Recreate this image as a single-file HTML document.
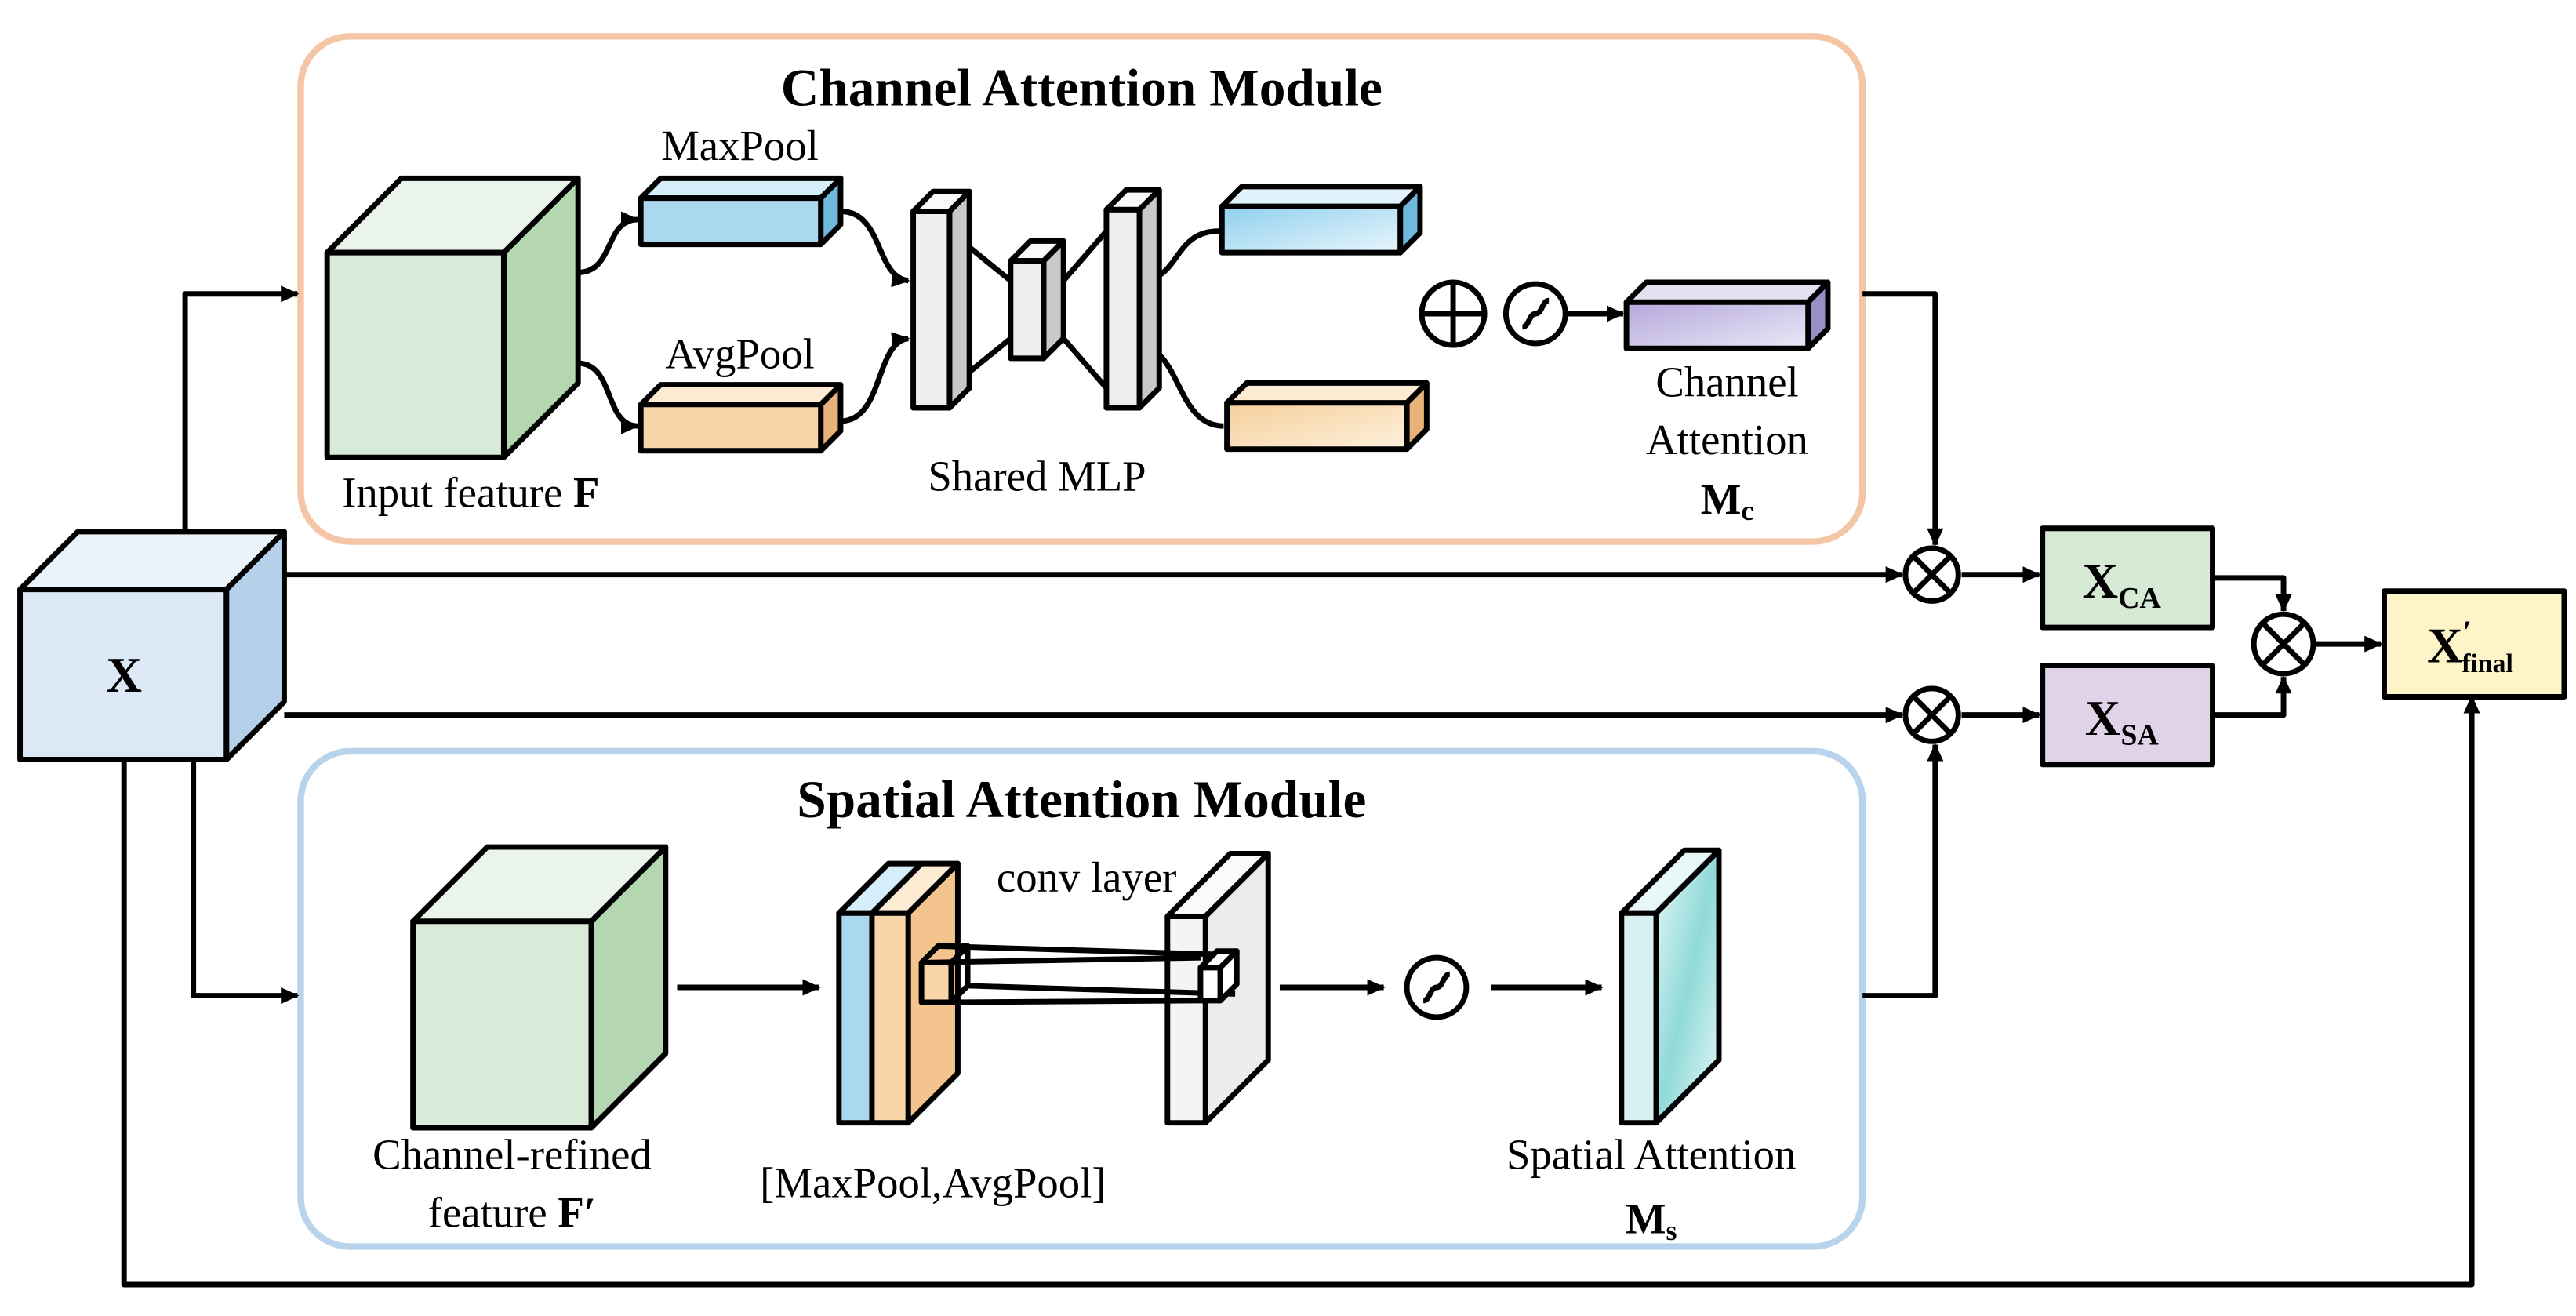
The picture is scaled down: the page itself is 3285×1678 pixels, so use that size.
<!DOCTYPE html>
<html><head><meta charset="utf-8"><style>html,body{margin:0;padding:0;background:#fff}svg{display:block}</style></head>
<body>
<svg width="3285" height="1678" viewBox="0 0 1560 797" xmlns="http://www.w3.org/2000/svg" font-family="Liberation Serif, serif">
<defs>
<marker id="a" markerWidth="11" markerHeight="10" refX="10" refY="5" orient="auto" markerUnits="userSpaceOnUse"><path d="M0,0 L11,5 L0,10 Z" fill="#000"/></marker>
<linearGradient id="gb" x1="0" y1="0" x2="1" y2="1"><stop offset="0" stop-color="#8fd0ee"/><stop offset="1" stop-color="#e8f6fc"/></linearGradient>
<linearGradient id="go" x1="0" y1="0" x2="1" y2="1"><stop offset="0" stop-color="#f6cf9c"/><stop offset="1" stop-color="#fdf0dc"/></linearGradient>
<linearGradient id="gp" x1="0" y1="0" x2="1" y2="1"><stop offset="0" stop-color="#b4a8dc"/><stop offset="1" stop-color="#ece8f6"/></linearGradient>
<linearGradient id="gt" x1="0" y1="0" x2="1" y2="1"><stop offset="0" stop-color="#e8f8f8"/><stop offset="0.5" stop-color="#8fdad8"/><stop offset="1" stop-color="#e8f8f8"/></linearGradient>
</defs>
<g stroke="#000" stroke-width="3.3" fill="none" stroke-linejoin="round">
<rect x="182" y="22" width="946" height="306" rx="30" stroke="#f5c6a5" stroke-width="4"/>
<rect x="182" y="455" width="946" height="300" rx="30" stroke="#b8d4ec" stroke-width="4"/>
<path d="M112,322 V178 H180" marker-end="url(#a)"/>
<path d="M117,460 V603 H180" marker-end="url(#a)"/>
<path d="M75,460 V778 H1497 V422" marker-end="url(#a)"/>
<path d="M172,348 H1152" marker-end="url(#a)"/>
<path d="M172,433 H1152" marker-end="url(#a)"/>
<path d="M1128,178 H1172 V330" marker-end="url(#a)"/>
<path d="M1128,603 H1172 V451" marker-end="url(#a)"/>
<path d="M1188,348 H1235" marker-end="url(#a)"/>
<path d="M1188,433 H1235" marker-end="url(#a)"/>
<path d="M1340,350 H1383 V370" marker-end="url(#a)"/>
<path d="M1340,433 H1383 V410" marker-end="url(#a)"/>
<path d="M1401,390 H1442" marker-end="url(#a)"/>
<circle cx="1170" cy="348" r="16" fill="#fff"/><path d="M1159,337 L1181,359 M1181,337 L1159,359"/>
<circle cx="1170" cy="433" r="16" fill="#fff"/><path d="M1159,422 L1181,444 M1181,422 L1159,444"/>
<circle cx="1383" cy="390" r="18" fill="#fff"/><path d="M1370,377 L1396,403 M1396,377 L1370,403"/>
<rect x="1237" y="320" width="103" height="60" fill="#d6ead6"/>
<rect x="1237" y="403" width="103" height="60" fill="#e0d3e8"/>
<rect x="1444" y="358" width="109" height="64" fill="#fdf4c8"/>
<polygon points="12,357 47,322 172,322 137,357" fill="#eaf2fa"/>
<polygon points="137,357 172,322 172,425 137,460" fill="#b5d0ea"/>
<rect x="12" y="357" width="125" height="103" fill="#dce8f5"/>
<polygon points="198,153 243,108 350,108 305,153" fill="#eaf4ea"/>
<polygon points="305,153 350,108 350,232 305,277" fill="#b4d6b0"/>
<rect x="198" y="153" width="107" height="124" fill="#d8ead8"/>
<path d="M350,165 C372,165 366,133 386,133" marker-end="url(#a)"/>
<path d="M350,220 C372,220 366,258 386,258" marker-end="url(#a)"/>
<path d="M509,128 C535,128 530,168 550,170" marker-end="url(#a)"/>
<path d="M509,255 C535,255 530,207 550,205" marker-end="url(#a)"/>
<path d="M690,170 C715,170 710,140 738,140"/>
<path d="M690,210 C715,210 712,258 741,258"/>
<polygon points="388,120 400,108 509,108 497,120" fill="#d6eefa"/><polygon points="497,120 509,108 509,136 497,148" fill="#6fb8de"/><rect x="388" y="120" width="109" height="28" fill="#aad8ee"/>
<polygon points="388,245 400,233 509,233 497,245" fill="#fdebd4"/><polygon points="497,245 509,233 509,261 497,273" fill="#e8b27a"/><rect x="388" y="245" width="109" height="28" fill="#f8d4a8"/>
<path d="M575,140 L612,170 M575,235 L612,205 M644,170 L670,140 M644,205 L670,235"/>
<polygon points="553,128 565,116 587,116 575,128" fill="#fafafa"/><polygon points="575,128 587,116 587,235 575,247" fill="#c8c8c8"/><rect x="553" y="128" width="22" height="119" fill="#eee"/>
<polygon points="612,158 624,146 644,146 632,158" fill="#fafafa"/><polygon points="632,158 644,146 644,205 632,217" fill="#c8c8c8"/><rect x="612" y="158" width="20" height="59" fill="#eee"/>
<polygon points="670,127 682,115 702,115 690,127" fill="#fafafa"/><polygon points="690,127 702,115 702,235 690,247" fill="#c8c8c8"/><rect x="670" y="127" width="20" height="120" fill="#eee"/>
<polygon points="740,125 752,113 860,113 848,125" fill="#e0f2fb"/><polygon points="848,125 860,113 860,141 848,153" fill="#6fb8de"/><rect x="740" y="125" width="108" height="28" fill="url(#gb)"/>
<polygon points="743,244 755,232 864,232 852,244" fill="#fdebd4"/><polygon points="852,244 864,232 864,260 852,272" fill="#e8b27a"/><rect x="743" y="244" width="109" height="28" fill="url(#go)"/>
<circle cx="880" cy="190" r="19"/><path d="M861,190 H899 M880,171 V209"/>
<circle cx="930" cy="190" r="18"/><path d="M922,198 C926,198 926,190 930,190 C934,190 934,182 938,182"/>
<path d="M948,190 H983" marker-end="url(#a)"/>
<polygon points="985,183 997,171 1107,171 1095,183" fill="#e4e0f2"/><polygon points="1095,183 1107,171 1107,199 1095,211" fill="#9a8ec8"/><rect x="985" y="183" width="110" height="28" fill="url(#gp)"/>
<polygon points="250,558 295,513 403,513 358,558" fill="#eaf4ea"/>
<polygon points="358,558 403,513 403,638 358,683" fill="#b4d6b0"/>
<rect x="250" y="558" width="108" height="125" fill="#d8ead8"/>
<path d="M410,598 H496" marker-end="url(#a)"/>
<polygon points="508,553 538,523 558,523 528,553" fill="#d6eefa"/><rect x="508" y="553" width="20" height="127" fill="#aad8ee"/>
<polygon points="528,553 558,523 580,523 550,553" fill="#fdebd4"/><rect x="528" y="553" width="22" height="127" fill="#f8d4a8"/>
<polygon points="550,553 580,523 580,650 550,680" fill="#f3c48e"/>
<polygon points="707,555 745,517 768,517 730,555" fill="#fafafa"/>
<polygon points="730,555 768,517 768,642 730,680" fill="#ececec"/>
<rect x="707" y="555" width="23" height="125" fill="#f4f4f4"/>
<rect x="558" y="583" width="18" height="24" fill="#f8d4a8"/><polygon points="558,583 568,573 586,573 576,583"/><polygon points="576,583 586,573 586,597 576,607"/>
<path d="M568,573 L737,578 M586,597 L748,602 M576,607 L727,606 M558,583 L727,580"/>
<rect x="727" y="586" width="12" height="20" fill="#fff"/><polygon points="727,586 737,576 749,576 739,586" fill="#fff"/><polygon points="739,586 749,576 749,596 739,606" fill="#fff"/>
<path d="M775,598 H838" marker-end="url(#a)"/>
<circle cx="870" cy="598" r="18"/><path d="M862,606 C866,606 866,598 870,598 C874,598 874,590 878,590"/>
<path d="M903,598 H970" marker-end="url(#a)"/>
<polygon points="982,553 1020,515 1041,515 1003,553" fill="#e8f8f8"/>
<polygon points="1003,553 1041,515 1041,642 1003,680" fill="url(#gt)"/>
<rect x="982" y="553" width="21" height="127" fill="#d8f0f0"/>
</g>
<g font-size="26" fill="#000" text-anchor="middle">
<text x="655" y="64" font-size="32" font-weight="bold">Channel Attention Module</text>
<text x="655" y="495" font-size="32" font-weight="bold">Spatial Attention Module</text>
<text x="448" y="97">MaxPool</text>
<text x="448" y="223">AvgPool</text>
<text x="285" y="307">Input feature <tspan font-weight="bold">F</tspan></text>
<text x="628" y="297">Shared MLP</text>
<text x="1046" y="240">Channel</text>
<text x="1046" y="275">Attention</text>
<text x="1046" y="311" font-weight="bold">M<tspan font-size="17" dy="4">c</tspan></text>
<text x="75" y="419" font-size="30" font-weight="bold">X</text>
<text x="1285" y="362" font-size="30" font-weight="bold">X<tspan font-size="18" dy="6">CA</tspan></text>
<text x="1285" y="445" font-size="30" font-weight="bold">X<tspan font-size="18" dy="6">SA</tspan></text>
<text x="1496" y="401" font-size="30" font-weight="bold">X<tspan font-size="19" dy="-12">′</tspan><tspan font-size="16" dx="-6" dy="18">final</tspan></text>
<text x="310" y="708">Channel-refined</text>
<text x="310" y="743">feature <tspan font-weight="bold">F′</tspan></text>
<text x="565" y="725">[MaxPool,AvgPool]</text>
<text x="658" y="540">conv layer</text>
<text x="1000" y="708">Spatial Attention</text>
<text x="1000" y="747" font-weight="bold">M<tspan font-size="17" dy="4">s</tspan></text>
</g>
</svg>
</body></html>
